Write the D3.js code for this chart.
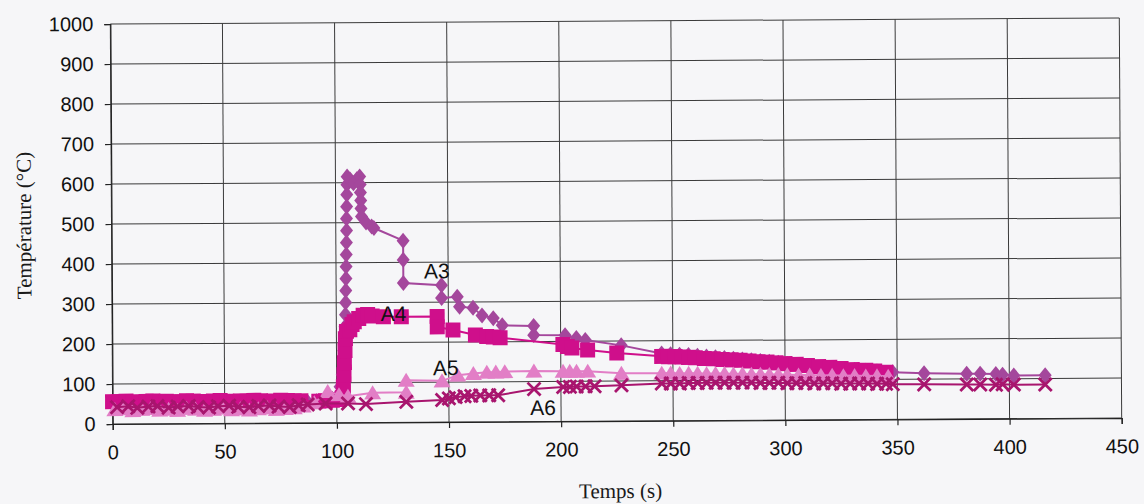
<!DOCTYPE html>
<html>
<head>
<meta charset="utf-8">
<script src="https://cdn.jsdelivr.net/npm/d3@7"></script>
<style>
  body { margin: 0; background: #f6f6f8; }
  svg { display: block; }
</style>
</head>
<body>
<script>
// temps (s), temperature (°C)
const a3 = [[0,52],[4,53],[8,52],[12,54],[16,53],[20,52],[24,54],[28,53],[32,52],[36,54],[40,53],[44,52],[48,53],[52,54],[56,52],[60,53],[64,54],[68,52],[72,53],[76,54],[80,52],[84,50],[87,52],[91,54],[95,56],[98,60],[100,65],[101.5,90],[102.5,120],[103,150],[103.3,180],[103.6,210],[103.9,240],[104.1,270],[104.2,300],[104.3,330],[104.4,360],[104.5,390],[104.6,420],[104.7,450],[104.8,480],[104.8,510],[104.9,540],[105,570],[105.1,595],[105.2,615],[106.5,608],[108,598],[109.5,608],[110.8,615],[111,595],[111.1,575],[111.2,555],[111.3,535],[111.5,515],[113.5,500],[116,490],[117,486],[130,454],[130,406],[130,348],[147,342],[147,310],[154,313],[155,288],[161,285],[165,266],[170,259],[174,241],[188,239],[188,216],[202,215],[207,208],[211,203],[227,189],[245,168],[249,166],[253,165],[257,164],[261,162],[265,160],[269,158],[273,156],[277,154],[281,152],[285,150],[289,148],[293,146],[297,143],[301,140],[306,137],[311,134],[316,131],[321,128],[326,126],[331,124],[336,122],[341,120],[348,118],[362,115],[381,113],[387,113],[394,112],[397,110],[402,108],[416,108]]

const a4 = [[0,56],[3,55],[6,57],[9,55],[12,54],[15,56],[18,57],[21,55],[24,56],[27,54],[30,55],[33,57],[36,56],[39,54],[42,55],[45,56],[48,57],[51,55],[54,54],[57,56],[60,55],[63,57],[66,56],[69,54],[72,55],[75,57],[78,56],[81,55],[84,55],[92,54],[95,55],[98,56],[101,58],[102.5,62],[103,90],[103.3,120],[103.5,150],[103.8,180],[104,210],[104.5,228],[106,232],[107,245],[108,252],[110,260],[112,268],[114,270],[116,266],[121,264],[129,264],[145,264],[145,238],[152,230],[162,217],[167,213],[170,212],[173,210],[201,192],[203,187],[205,183],[212,178],[225,170],[245,161],[248,160],[251,160],[254,159],[257,158],[260,157],[264,155],[268,154],[272,152],[276,151],[280,150],[284,148],[288,146],[292,145],[296,143],[300,141],[305,139],[310,136],[315,133],[320,131],[325,128],[330,125],[336,123],[340,121],[345,118]]

const a5 = [[1,36],[5,38],[9,33],[13,36],[17,38],[21,34],[25,36],[29,33],[33,38],[37,36],[41,33],[45,35],[49,38],[53,34],[57,36],[61,33],[65,36],[69,38],[73,34],[77,36],[81,38],[85,42],[90,50],[96,78],[101,70],[105,66],[116,74],[131,75],[131,105],[147,103],[154,117],[161,121],[167,124],[171,124],[175,125],[188,126],[201,125],[204,125],[207,125],[212,125],[227,119],[245,119],[249,119],[253,118],[257,118],[261,118],[265,117],[269,117],[273,117],[277,116],[281,116],[285,115],[289,115],[293,114],[297,114],[301,113],[306,112],[311,112],[316,111],[321,111],[326,110],[331,110],[336,109],[341,109],[346,108]]

const a6 = [[2,42],[7,44],[11,40],[16,43],[20,44],[25,40],[29,43],[34,44],[38,41],[43,40],[47,43],[52,44],[56,41],[61,40],[65,43],[70,44],[74,41],[79,40],[83,44],[87,46],[95,48],[105,48],[113,46],[131,51],[147,55],[150,59],[153,62],[157,64],[160,65],[164,66],[168,66],[172,66],[188,81],[201,86],[204,86],[207,87],[211,87],[215,87],[227,89],[245,93],[249,93],[253,93],[257,94],[261,94],[265,94],[269,94],[273,94],[277,94],[281,94],[285,94],[289,93],[293,93],[297,93],[301,92],[305,92],[309,92],[313,91],[317,91],[321,91],[325,90],[329,90],[333,90],[337,90],[341,89],[345,89],[348,88],[362,87],[381,86],[387,86],[394,85],[397,86],[402,85],[416,85]]

const seriesNames = ["A3", "A4", "A5", "A6"]
// where each curve is labelled, in data units [s, °C]
const labelAt = [[145, 378], [125.5, 272], [148.7, 136], [192, 35]]

const xTicks = [0, 50, 100, 150, 200, 250, 300, 350, 400, 450]
const yTicks = [0, 100, 200, 300, 400, 500, 600, 700, 800, 900, 1000]

const width = 1144
const height = 504
const margin = {top: 21, left: 111.5}
const plotW = 1009
const plotH = 400

const colors = ["#a4479c", "#cf0f8b", "#e27ec6", "#a8156e"]
const markers = [
  "M0,-8L6.5,0L0,8L-6.5,0Z",           // diamond
  "M-7.5,-7.5h15v15h-15Z",             // square
  "M0,-7.5L8.5,6.5L-8.5,6.5Z",         // triangle
  "M-6.5,-6.5L6.5,6.5M6.5,-6.5L-6.5,6.5" // cross
]

const x = d3.scaleLinear().domain([0, 450]).range([0, plotW])
const y = d3.scaleLinear().domain([0, 1000]).range([plotH, 0])

const svg = d3.select("body").append("svg")
    .attr("width", width)
    .attr("height", height)

svg.append("rect")
    .attr("width", width)
    .attr("height", height)
    .attr("fill", "#f6f6f8")

// the scan is slightly tilted, right side higher
const page = svg.append("g")
    .attr("transform", "rotate(-0.34 616 221)")

const plot = page.append("g")
    .attr("transform", `translate(${margin.left},${margin.top})`)

plot.append("g").selectAll("line")
    .data(yTicks)
    .enter().append("line")
    .attr("x1", 0).attr("x2", plotW)
    .attr("y1", function (d) { return y(d) })
    .attr("y2", function (d) { return y(d) })
    .attr("stroke", "#3b3b3b")
    .attr("stroke-width", 1)

plot.append("g").selectAll("line")
    .data(xTicks)
    .enter().append("line")
    .attr("y1", 0).attr("y2", plotH)
    .attr("x1", function (d) { return x(d) })
    .attr("x2", function (d) { return x(d) })
    .attr("stroke", "#3b3b3b")
    .attr("stroke-width", 1)

const yAxis = plot.append("g")
    .call(d3.axisLeft(y).tickValues(yTicks).tickFormat(d3.format("d")).tickSize(6).tickPadding(11))
const xAxis = plot.append("g")
    .attr("transform", `translate(0,${plotH})`)
    .call(d3.axisBottom(x).tickValues(xTicks).tickFormat(d3.format("d")).tickSize(6).tickPadding(15))

;[yAxis, xAxis].forEach(function (ax) {
  ax.selectAll("path, line").attr("stroke", "#222").attr("stroke-width", 1.2)
  ax.selectAll("text")
      .attr("fill", "#111")
      .style("font-family", "'Liberation Sans', Arial, sans-serif")
      .style("font-size", "20px")
})

const line = d3.line()
    .x(function (d) { return x(d[0]) })
    .y(function (d) { return y(d[1]) })

const allSeries = [a3, a4, a5, a6]

allSeries.forEach(function (data, i) {
  const g = plot.append("g").attr("class", "series " + seriesNames[i])
  g.append("path")
      .datum(data)
      .attr("d", line)
      .attr("fill", "none")
      .attr("stroke", colors[i])
      .attr("stroke-width", 2)
  g.selectAll("path.mark")
      .data(data)
      .enter().append("path")
      .attr("class", "mark")
      .attr("d", markers[i])
      .attr("transform", function (d) { return `translate(${x(d[0])},${y(d[1])})` })
      .attr("fill", i === 3 ? "none" : colors[i])
      .attr("stroke", i === 3 ? colors[i] : "none")
      .attr("stroke-width", 2.8)
})

plot.selectAll("text.curve")
    .data(seriesNames)
    .enter().append("text")
    .attr("class", "curve")
    .attr("x", function (d, i) { return x(labelAt[i][0]) })
    .attr("y", function (d, i) { return y(labelAt[i][1]) })
    .attr("text-anchor", "middle")
    .attr("dominant-baseline", "central")
    .attr("fill", "#111")
    .style("font-family", "'Liberation Sans', Arial, sans-serif")
    .style("font-size", "21px")
    .text(function (d) { return d })

page.append("text")
    .attr("transform", "translate(31,222) rotate(-90)")
    .attr("text-anchor", "middle")
    .attr("fill", "#1a1a1a")
    .style("font-family", "'Liberation Serif', 'Times New Roman', serif")
    .style("font-size", "21px")
    .text("Température (°C)")

page.append("text")
    .attr("x", 619)
    .attr("y", 498)
    .attr("text-anchor", "middle")
    .attr("fill", "#1a1a1a")
    .style("font-family", "'Liberation Serif', 'Times New Roman', serif")
    .style("font-size", "21px")
    .text("Temps (s)")
</script>
</body>
</html>
